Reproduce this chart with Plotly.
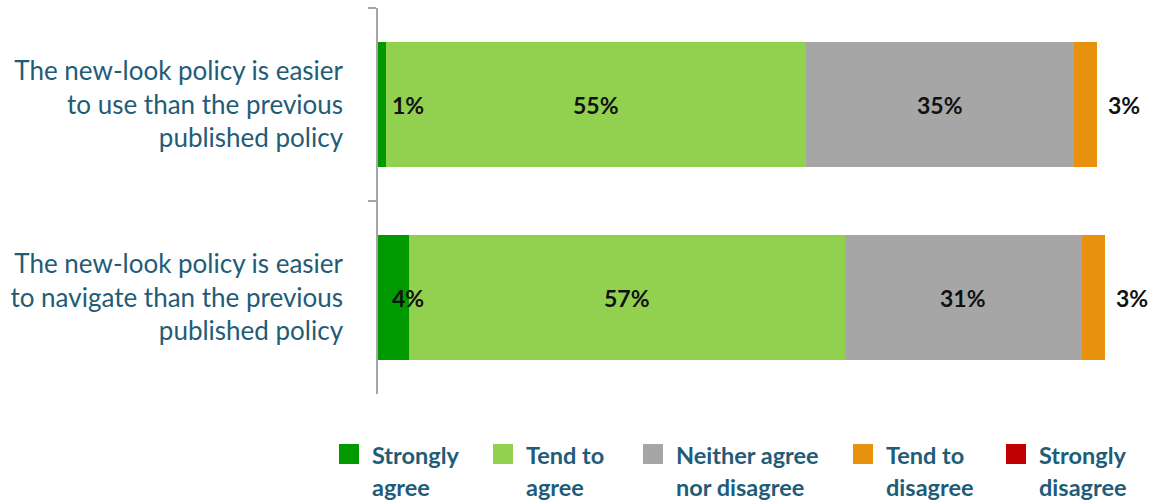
import plotly.graph_objects as go

# ---------------- data ----------------
statements = [
    "The new-look policy is easier<br>to use than the previous<br>published policy",
    "The new-look policy is easier<br>to navigate than the previous<br>published policy",
]
series_names = ["Strongly agree", "Tend to agree", "Neither agree nor disagree",
                "Tend to disagree", "Strongly disagree"]
legend_line1 = ["Strongly", "Tend to", "Neither agree", "Tend to", "Strongly"]
legend_line2 = ["agree", "agree", "nor disagree", "disagree", "disagree"]
strongly_agree = [1, 4]
tend_to_agree = [55, 57]
neither = [35, 31]
tend_to_disagree = [3, 3]
strongly_disagree = [0, 0]
values = [strongly_agree, tend_to_agree, neither, tend_to_disagree, strongly_disagree]

# ---------------- styles ----------------
colors = ["#009A00", "#92D050", "#A6A6A6", "#E8910F", "#C00000"]
TEAL = "#1F5C78"
FONT = "Lato"
W, H = 1154, 504
L, R, T, B = 378, 1143, 8, 394
legend_sq_x = [339, 493, 643, 853, 1006]


def px_x(px):
    return (px - L) / (R - L)


def px_y(py):
    return (B - py) / (B - T)


fig = go.Figure()
for name, vals, col in zip(series_names, values, colors):
    fig.add_trace(go.Bar(
        y=statements, x=vals, name=name, orientation="h",
        marker=dict(color=col, line=dict(width=0)),
        showlegend=False, hovertemplate="%{x}%<extra>" + name + "</extra>",
    ))

annotations = []
# data labels
for i, stmt in enumerate(statements):
    start = 0
    for s, vals in enumerate(values):
        v = vals[i]
        if v > 0:
            if s == 0:
                annotations.append(dict(x=start, y=stmt, xref="x", yref="y", text=f"{v}%",
                                        showarrow=False, xanchor="left", xshift=12))
            elif s in (1, 2):
                annotations.append(dict(x=start + v / 2, y=stmt, xref="x", yref="y",
                                        text=f"{v}%", showarrow=False, xanchor="center"))
            elif s == 3:
                annotations.append(dict(x=start + v, y=stmt, xref="x", yref="y", text=f"{v}%",
                                        showarrow=False, xanchor="left", xshift=9))
        start += v
for a in annotations:
    a["font"] = dict(family=FONT, size=23, color="#111111", weight="bold")

# manual legend
shapes = []
for k in range(len(series_names)):
    x0 = legend_sq_x[k]
    shapes.append(dict(type="rect", xref="paper", yref="paper",
                       x0=px_x(x0), x1=px_x(x0 + 20), y0=px_y(444), y1=px_y(464),
                       fillcolor=colors[k], line=dict(width=0)))
    for txt, yc in ((legend_line1[k], 455), (legend_line2[k], 487)):
        annotations.append(dict(x=px_x(x0 + 31), y=px_y(yc), xref="paper", yref="paper",
                                text=txt, showarrow=False, xanchor="left", yanchor="middle",
                                font=dict(family=FONT, size=23.5, color=TEAL, weight="bold")))

fig.update_layout(
    barmode="stack",
    bargap=0.357,
    width=W, height=H,
    margin=dict(l=L, r=W - R, t=T, b=H - B, pad=0),
    paper_bgcolor="white", plot_bgcolor="white",
    xaxis=dict(range=[0, 100], visible=False, showgrid=False, zeroline=False),
    yaxis=dict(
        range=[1.5, -0.5], showline=True, linecolor="#A6A6A6", linewidth=1.5,
        ticks="outside", ticklen=8, tickcolor="#A6A6A6", tickwidth=1.5,
        tickson="boundaries", showgrid=False, zeroline=False,
        ticklabelstandoff=28,
        tickfont=dict(family=FONT, size=26, color=TEAL),
    ),
    annotations=annotations,
    shapes=shapes,
)

fig.write_html("out.html", config={"displayModeBar": False},
               post_script="document.body.style.margin='0';document.body.style.padding='0';")
